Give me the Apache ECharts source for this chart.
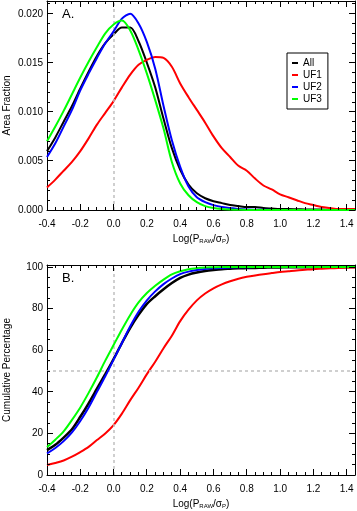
<!DOCTYPE html>
<html>
<head>
<meta charset="utf-8">
<script src="https://cdn.jsdelivr.net/npm/echarts@6/dist/echarts.min.js"></script>
<style>
  html, body { margin: 0; padding: 0; background: #fff; }
  #chart { width: 357px; height: 511px; }
</style>
</head>
<body>
<div id="chart"></div>
<script>
// x = Log(P_RAW / sigma_P), step 0.05
var xVals = [-0.40, -0.35, -0.30, -0.25, -0.20, -0.15, -0.10, -0.05, 0.00, 0.05,
  0.10, 0.15, 0.20, 0.25, 0.30, 0.35, 0.40, 0.45, 0.50, 0.55,
  0.60, 0.65, 0.70, 0.75, 0.80, 0.85, 0.90, 0.95, 1.00, 1.05,
  1.10, 1.15, 1.20, 1.25, 1.30, 1.35, 1.40, 1.45];

// panel A: area fraction
var areaAll = [0.0060, 0.0074, 0.0090, 0.0106, 0.0124, 0.0141, 0.0157, 0.0170, 0.0179, 0.0186,
  0.0186, 0.0172, 0.0150, 0.0125, 0.0093, 0.0063, 0.0041, 0.0026, 0.0017, 0.0012,
  0.0009, 0.0007, 0.0005, 0.0004, 0.0003, 0.0003, 0.0002, 0.00015, 0.0001, 0.0001,
  0.00008, 0.00006, 0.00005, 0.00004, 0.00003, 0.00002, 0.00002, 0.00001];
var areaUF1 = [0.0023, 0.0031, 0.0040, 0.0049, 0.0060, 0.0073, 0.0087, 0.0099, 0.0111, 0.0125,
  0.0138, 0.0148, 0.0153, 0.0156, 0.0155, 0.0146, 0.0129, 0.0115, 0.0102, 0.0089,
  0.0075, 0.0063, 0.0054, 0.0045, 0.0040, 0.0032, 0.0025, 0.0021, 0.0016, 0.0013,
  0.0010, 0.0007, 0.0005, 0.0003, 0.0002, 0.0001, 0.0001, 0.0001];
var areaUF2 = [0.0054, 0.0068, 0.0085, 0.0102, 0.0122, 0.0139, 0.0155, 0.0170, 0.0182, 0.0195,
  0.0200, 0.0190, 0.0171, 0.0144, 0.0106, 0.0071, 0.0044, 0.0024, 0.0013, 0.0008,
  0.0005, 0.0003, 0.0002, 0.0001, 0.00005, 0.00003, 0.00002, 0.00001, 0, 0,
  0, 0, 0, 0, 0, 0, 0, 0];
var areaUF3 = [0.0070, 0.0085, 0.0101, 0.0118, 0.0135, 0.0151, 0.0166, 0.0180, 0.0189, 0.0193,
  0.0183, 0.0163, 0.0139, 0.0112, 0.0083, 0.0049, 0.0027, 0.0015, 0.0008, 0.0004,
  0.0002, 0.0001, 0.00005, 0.00002, 0, 0, 0, 0, 0, 0,
  0, 0, 0, 0, 0, 0, 0, 0];

// panel B: cumulative percentage
var cumAll = [12.0, 14.5, 18.0, 22.0, 28.0, 34.5, 41.5, 48.5, 55.8, 63.5,
  70.8, 77.0, 82.3, 86.0, 89.3, 92.3, 94.8, 96.4, 97.4, 98.1,
  98.6, 99.0, 99.2, 99.4, 99.5, 99.6, 99.7, 99.8, 99.85, 99.9,
  99.9, 99.92, 99.94, 99.95, 99.96, 99.97, 99.98, 100];
var cumUF1 = [4.8, 5.8, 7.0, 8.8, 11.0, 13.5, 16.8, 20.0, 24.0, 29.5,
  36.0, 42.0, 48.5, 54.5, 61.0, 67.0, 74.0, 79.5, 84.0, 87.3,
  89.8, 91.7, 93.2, 94.4, 95.3, 96.0, 96.6, 97.1, 97.6, 98.0,
  98.4, 98.7, 99.0, 99.2, 99.4, 99.55, 99.7, 99.8];
var cumUF2 = [10.4, 13.0, 16.3, 20.5, 26.0, 32.5, 40.0, 47.5, 55.5, 63.5,
  71.5, 78.5, 84.0, 88.3, 91.8, 94.5, 96.6, 97.8, 98.6, 99.1,
  99.4, 99.6, 99.8, 99.9, 99.95, 100, 100, 100, 100, 100,
  100, 100, 100, 100, 100, 100, 100, 100];
var cumUF3 = [13.5, 17.0, 21.0, 26.5, 32.5, 39.5, 47.0, 55.0, 62.5, 70.0,
  77.0, 83.0, 87.5, 91.0, 94.0, 96.5, 98.0, 99.0, 99.5, 99.8,
  99.9, 100, 100, 100, 100, 100, 100, 100, 100, 100,
  100, 100, 100, 100, 100, 100, 100, 100];

// tick values for the IDL-style inward ticks on all four sides
var xMajorTicks = [-0.4, -0.2, 0.0, 0.2, 0.4, 0.6, 0.8, 1.0, 1.2, 1.4];
var xMinorTicks = xVals;
var yMajorTicksA = [0, 0.005, 0.010, 0.015, 0.020];
var yMinorTicksA = [0, 0.001, 0.002, 0.003, 0.004, 0.005, 0.006, 0.007, 0.008, 0.009, 0.010,
  0.011, 0.012, 0.013, 0.014, 0.015, 0.016, 0.017, 0.018, 0.019, 0.020, 0.021];
var yMajorTicksB = [0, 20, 40, 60, 80, 100];
var yMinorTicksB = [0, 5, 10, 15, 20, 25, 30, 35, 40, 45, 50, 55, 60, 65, 70, 75, 80, 85, 90, 95, 100];

var names = ['All', 'UF1', 'UF2', 'UF3'];
var colors = ['#000000', '#ff0000', '#0000ff', '#00ff00'];
var areaData = [areaAll, areaUF1, areaUF2, areaUF3];
var cumData = [cumAll, cumUF1, cumUF2, cumUF3];

function pairs (ys) {
  return xVals.map(function (x, i) { return [x, ys[i]]; });
}

var font = 'Liberation Sans, Arial, Helvetica, sans-serif';
var xName = 'Log(P{sub|RAW}/σ{sub|P})';
var X_MIN = -0.4, X_MAX = 1.45;

var cfgA = { max: 0.0213, major: 0.005, name: 'Area Fraction',
  fmt: function (v) { return v.toFixed(3); } };
var cfgB = { max: 101, major: 20, name: 'Cumulative Percentage',
  fmt: function (v) { return String(Math.round(v)); } };

function frameX (gridIndex, pos, labels) {
  return {
    type: 'value', gridIndex: gridIndex, position: pos,
    min: X_MIN, max: X_MAX, interval: 0.2,
    name: labels ? xName : '',
    nameLocation: 'middle', nameGap: 24, nameMoveOverlap: false,
    nameTextStyle: {
      color: '#000', fontSize: 10, fontFamily: font,
      rich: { sub: { fontSize: 6, verticalAlign: 'bottom', fontFamily: font, color: '#000', padding: [4, 0, 0, 0] } }
    },
    axisLine: { show: true, onZero: false, lineStyle: { color: '#000', width: 1 } },
    axisTick: { show: false },
    axisLabel: {
      show: labels, color: '#000', fontSize: 10, fontFamily: font, margin: 9,
      showMaxLabel: false,
      formatter: function (v) { return v.toFixed(1); }
    },
    splitLine: { show: false }
  };
}

function frameY (gridIndex, pos, labels, cfg) {
  return {
    type: 'value', gridIndex: gridIndex, position: pos,
    min: 0, max: cfg.max, interval: cfg.major,
    name: labels ? cfg.name : '',
    nameLocation: 'middle', nameGap: 35, nameMoveOverlap: false,
    nameTextStyle: { color: '#000', fontSize: 10, fontFamily: font },
    axisLine: { show: true, onZero: false, lineStyle: { color: '#000', width: 1 } },
    axisTick: { show: false },
    axisLabel: {
      show: labels, color: '#000', fontSize: 10, fontFamily: font, margin: 4,
      showMaxLabel: false,
      formatter: cfg.fmt
    },
    splitLine: { show: false }
  };
}

// custom series that draws inward tick marks on both opposite sides of a panel
var tickStyle = { stroke: '#000', lineWidth: 1 };
function crisp (v) { return Math.round(v - 0.5) + 0.5; }
function tickSeries (axisIdx, dim, values, len, yMax) {
  return {
    type: 'custom',
    xAxisIndex: axisIdx,
    yAxisIndex: axisIdx,
    silent: true,
    clip: false,
    z: 10,
    data: values.map(function (v) { return dim === 'x' ? [v, 0] : [X_MIN, v]; }),
    renderItem: function (params, api) {
      var a, b;
      if (dim === 'x') {
        var v = api.value(0);
        a = api.coord([v, 0]);
        b = api.coord([v, yMax]);
        var px = crisp(a[0]);
        return {
          type: 'group',
          children: [
            { type: 'line', shape: { x1: px, y1: a[1], x2: px, y2: a[1] - len }, style: tickStyle },
            { type: 'line', shape: { x1: px, y1: b[1], x2: px, y2: b[1] + len }, style: tickStyle }
          ]
        };
      }
      var w = api.value(1);
      a = api.coord([X_MIN, w]);
      b = api.coord([X_MAX, w]);
      var py = crisp(a[1]);
      return {
        type: 'group',
        children: [
          { type: 'line', shape: { x1: a[0], y1: py, x2: a[0] + len, y2: py }, style: tickStyle },
          { type: 'line', shape: { x1: b[0], y1: py, x2: b[0] - len, y2: py }, style: tickStyle }
        ]
      };
    }
  };
}

var guide = { color: '#c0c0c0', type: [3, 3], width: 1.5 };

var series = [
  {
    type: 'line', xAxisIndex: 0, yAxisIndex: 0, data: [], z: 1, silent: true,
    markLine: { silent: true, symbol: 'none', label: { show: false }, lineStyle: guide,
      data: [{ xAxis: 0 }] }
  },
  {
    type: 'line', xAxisIndex: 2, yAxisIndex: 2, data: [], z: 1, silent: true,
    markLine: { silent: true, symbol: 'none', label: { show: false }, lineStyle: guide,
      data: [{ xAxis: 0 }, { yAxis: 50 }] }
  },
  tickSeries(0, 'x', xMajorTicks, 6, cfgA.max),
  tickSeries(0, 'x', xMinorTicks, 3, cfgA.max),
  tickSeries(0, 'y', yMajorTicksA, 6, cfgA.max),
  tickSeries(0, 'y', yMinorTicksA, 3, cfgA.max),
  tickSeries(2, 'x', xMajorTicks, 6, cfgB.max),
  tickSeries(2, 'x', xMinorTicks, 3, cfgB.max),
  tickSeries(2, 'y', yMajorTicksB, 6, cfgB.max),
  tickSeries(2, 'y', yMinorTicksB, 3, cfgB.max)
];

names.forEach(function (n, i) {
  series.push({
    name: n, type: 'line', xAxisIndex: 0, yAxisIndex: 0, z: 3 + i,
    data: pairs(areaData[i]), showSymbol: false, smooth: 0.3,
    lineStyle: { color: colors[i], width: 2 }, itemStyle: { color: colors[i] }
  });
});
names.forEach(function (n, i) {
  series.push({
    name: n, type: 'line', xAxisIndex: 2, yAxisIndex: 2, z: 3 + i,
    data: pairs(cumData[i]), showSymbol: false, smooth: 0.3,
    lineStyle: { color: colors[i], width: i === 0 ? 2.5 : 2 }, itemStyle: { color: colors[i] }
  });
});

var chart = echarts.init(document.getElementById('chart'), null, { renderer: 'canvas' });
chart.setOption({
  animation: false,
  backgroundColor: '#fff',
  textStyle: { fontFamily: font },
  title: [
    { text: 'A.', left: 57, top: 3, textStyle: { fontSize: 13, fontWeight: 'normal', color: '#000', fontFamily: font } },
    { text: 'B.', left: 57, top: 267, textStyle: { fontSize: 13, fontWeight: 'normal', color: '#000', fontFamily: font } }
  ],
  legend: {
    data: names,
    orient: 'vertical',
    left: 287,
    top: 53,
    padding: [5, 6, 5, 5],
    itemGap: 2,
    itemWidth: 6,
    itemHeight: 2,
    icon: 'rect',
    selectedMode: false,
    borderColor: '#000',
    borderWidth: 1,
    backgroundColor: '#fff',
    textStyle: { color: '#000', fontSize: 10, fontFamily: font }
  },
  grid: [
    { left: 47, right: 2, top: 1, height: 209, outerBoundsMode: 'none', containLabel: false },
    { left: 47, right: 2, top: 265, height: 210, outerBoundsMode: 'none', containLabel: false }
  ],
  xAxis: [
    frameX(0, 'bottom', true),
    frameX(0, 'top', false),
    frameX(1, 'bottom', true),
    frameX(1, 'top', false)
  ],
  yAxis: [
    frameY(0, 'left', true, cfgA),
    frameY(0, 'right', false, cfgA),
    frameY(1, 'left', true, cfgB),
    frameY(1, 'right', false, cfgB)
  ],
  series: series
});
</script>
</body>
</html>
